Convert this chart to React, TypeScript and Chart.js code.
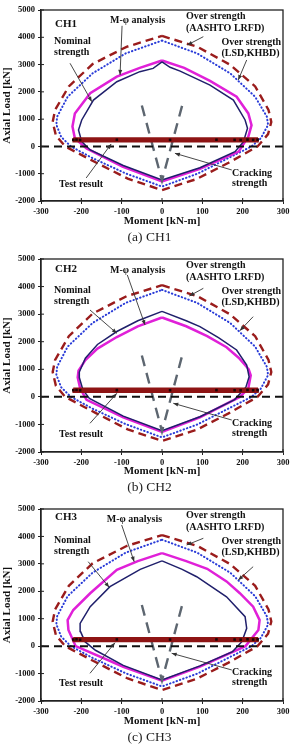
import React, { useEffect, useRef } from "react";
import { Chart, registerables } from "chart.js";
Chart.register(...registerables);

const FONT = '"Liberation Serif", "Times New Roman", serif';

// Axis ranges
const momentMin = -300;
const momentMax = 300;
const momentStep = 100;
const axialMin = -2000;
const axialMax = 5000;
const axialStep = 1000;

// Over strength (AASHTO LRFD)
const aashtoM = [0, 88, 168, 231, 264, 271, 263, 237, 165, 85, 0, -85, -165, -240, -263, -271, -265, -231, -172, -88, 0];
const aashtoP = [4050, 3650, 3000, 2200, 1340, 900, 450, 0, -600, -1200, -1600, -1180, -580, 0, 400, 900, 1340, 2200, 3020, 3650, 4050];

// Over strength (LSD, KHBD)
const lsdM = [0, 87, 169, 231, 260, 263, 245, 222, 168, 88, 0, -90, -172, -226, -250, -262, -260, -234, -172, -90, 0];
const lsdP = [3880, 3410, 2680, 1820, 1090, 790, 300, 0, -400, -1000, -1470, -990, -430, 0, 350, 800, 1090, 1820, 2680, 3410, 3880];

// Cracking strength
const crackM = [-50, 0, 50];
const crackP = [1500, -1250, 1500];

// P = 0 reference line
const zeroM = [-300, 300];
const zeroP = [0, 0];

// Test result (hysteresis at constant axial load)
const testM = [0, 60, -60, 110, -110, 150, -150, 185, -185, 205, -205, 225, -215, 238, -220, 240, -222, 0];
const testP = [240, 250, 250, 230, 230, 255, 255, 225, 225, 250, 250, 235, 235, 255, 255, 225, 225, 240];
const testMarkM = [-220, -212, -203, -112, 20, 135, 180, 195, 212, 226, 237];
const testMarkP = [240, 250, 235, 245, 240, 245, 240, 235, 250, 240, 245];

// CH1
const ch1NominalM = [0, 20, 45, 119, 177, 206, 212, 202, 181, 94, 0, -96, -178, -199, -207, -199, -170, -112, -55, -22, 0];
const ch1NominalP = [3100, 2900, 2760, 2250, 1700, 970, 665, 175, -190, -780, -1230, -700, -130, 175, 600, 970, 1700, 2370, 2740, 2860, 3100];
const ch1MphiM = [0, 55, 119, 185, 214, 222, 214, 190, 94, 0, -98, -187, -216, -222, -216, -178, -112, -55, 0];
const ch1MphiP = [3150, 2880, 2400, 1820, 1210, 780, 360, -190, -820, -1280, -740, -70, 300, 730, 1210, 1950, 2560, 2880, 3150];

// CH2
const ch2NominalM = [0, 60, 94, 140, 185, 210, 216, 208, 180, 94, 0, -96, -180, -196, -205, -205, -190, -160, -112, -60, 0];
const ch2NominalP = [3100, 2760, 2550, 2150, 1700, 1150, 730, 350, -100, -720, -1230, -700, -60, 250, 700, 900, 1400, 1900, 2370, 2760, 3100];
const ch2MphiM = [0, 60, 112, 160, 190, 215, 220, 214, 193, 94, 0, -96, -187, -203, -209, -207, -190, -160, -112, -60, 0];
const ch2MphiP = [2880, 2560, 2200, 1800, 1420, 1000, 780, 310, 0, -740, -1270, -740, -110, 310, 700, 950, 1330, 1750, 2170, 2560, 2880];

// CH3
const ch3NominalM = [0, 50, 86, 160, 206, 210, 198, 175, 94, 0, -96, -165, -191, -202, -203, -178, -129, -54, 0];
const ch3NominalP = [3110, 2800, 2530, 1800, 1075, 650, 163, -200, -720, -1230, -700, -150, 163, 530, 830, 1440, 2170, 2800, 3110];
const ch3MphiM = [0, 60, 112, 160, 193, 226, 242, 239, 207, 94, 0, -96, -214, -232, -234, -220, -178, -112, -60, 0];
const ch3MphiP = [3390, 3100, 2820, 2360, 1930, 1440, 950, 590, 0, -750, -1260, -750, 0, 590, 950, 1318, 1927, 2780, 3100, 3390];

type Txt = { t: string; m: number; p: number; size?: number };
type Arr = { m0: number; p0: number; m1: number; p1: number };

const sharedTexts: Txt[] = [
  { t: "Over strength", m: 59.5, p: 4770 },
  { t: "(AASHTO LRFD)", m: 59.5, p: 4340 },
  { t: "Over strength", m: 147.6, p: 3827 },
  { t: "(LSD,KHBD)", m: 147.6, p: 3424 },
  { t: "Nominal", m: -267.8, p: 3864 },
  { t: "strength", m: -267.8, p: 3461 },
  { t: "Test result", m: -255.4, p: -1376 },
  { t: "Cracking", m: 173.6, p: -973 },
  { t: "strength", m: 173.6, p: -1339 },
];

const panels = [
  {
    name: "CH1",
    caption: "(a) CH1",
    top: 10,
    xh: 29,
    nominalM: ch1NominalM,
    nominalP: ch1NominalP,
    mphiM: ch1MphiM,
    mphiP: ch1MphiP,
    texts: [{ t: "CH1", m: -265, p: 4487, size: 11 }, { t: "M-φ analysis", m: -129, p: 4634 }, ...sharedTexts],
    arrows: [
      { m0: -99, p0: 4420, m1: -104, p1: 2620 },
      { m0: 102.5, p0: 4022, m1: 62.8, p1: 3717 },
      { m0: 210, p0: 3168, m1: 189, p1: 2435 },
      { m0: -228, p0: 3047, m1: -174, p1: 1640 },
      { m0: -188, p0: -1156, m1: -126, p1: 90 },
      { m0: 173, p0: -863, m1: 32, p1: -252 },
    ],
  },
  {
    name: "CH2",
    caption: "(b) CH2",
    top: 9,
    xh: 28,
    nominalM: ch2NominalM,
    nominalP: ch2NominalP,
    mphiM: ch2MphiM,
    mphiP: ch2MphiP,
    texts: [{ t: "CH2", m: -265, p: 4626, size: 11 }, { t: "M-φ analysis", m: -129, p: 4601 }, ...sharedTexts],
    arrows: [
      { m0: -86, p0: 4420, m1: -42, p1: 2606 },
      { m0: 102.5, p0: 3937, m1: 67.7, p1: 3658 },
      { m0: 226, p0: 2908, m1: 193, p1: 2400 },
      { m0: -178.5, p0: 3150, m1: -112, p1: 2305 },
      { m0: -178.5, p0: -959, m1: -112, p1: 129 },
      { m0: 173, p0: -840, m1: 28, p1: -234 },
    ],
  },
  {
    name: "CH3",
    caption: "(c) CH3",
    top: 9,
    xh: 29,
    nominalM: ch3NominalM,
    nominalP: ch3NominalP,
    mphiM: ch3MphiM,
    mphiP: ch3MphiP,
    texts: [{ t: "CH3", m: -265, p: 4700, size: 11 }, { t: "M-φ analysis", m: -137, p: 4624 }, ...sharedTexts],
    arrows: [
      { m0: -100, p0: 4417, m1: -69, p1: 3079 },
      { m0: 102.5, p0: 3932, m1: 61, p1: 3688 },
      { m0: 226, p0: 2897, m1: 189, p1: 2412 },
      { m0: -183, p0: 3079, m1: -131, p1: 2145 },
      { m0: -178.5, p0: -990, m1: -116.5, p1: 126 },
      { m0: 173, p0: -869, m1: 24, p1: -261 },
    ],
  },
];

const zip = (m: number[], p: number[]) => m.map((v, i) => ({ x: v, y: p[i] }));

function drawArrow(ctx: CanvasRenderingContext2D, x0: number, y0: number, x1: number, y1: number) {
  ctx.beginPath();
  ctx.moveTo(x0, y0);
  ctx.lineTo(x1, y1);
  ctx.stroke();
  const a = Math.atan2(y1 - y0, x1 - x0);
  const L = 5;
  const W = 2;
  ctx.beginPath();
  ctx.moveTo(x1, y1);
  ctx.lineTo(x1 - L * Math.cos(a) + W * Math.sin(a), y1 - L * Math.sin(a) - W * Math.cos(a));
  ctx.lineTo(x1 - L * Math.cos(a) - W * Math.sin(a), y1 - L * Math.sin(a) + W * Math.cos(a));
  ctx.closePath();
  ctx.fill();
}

function makeAnnotPlugin(texts: Txt[], arrows: Arr[]) {
  return {
    id: "annot",
    afterDatasetsDraw(chart: any) {
      const { ctx, chartArea, scales } = chart;
      const x = scales.x;
      const y = scales.y;
      ctx.save();
      // frame
      ctx.strokeStyle = "#222";
      ctx.lineWidth = 1.3;
      ctx.strokeRect(chartArea.left, chartArea.top, chartArea.right - chartArea.left, chartArea.bottom - chartArea.top);
      // inward ticks
      ctx.lineWidth = 1;
      ctx.beginPath();
      x.ticks.forEach((t: any) => {
        const px = x.getPixelForValue(t.value);
        ctx.moveTo(px, chartArea.bottom);
        ctx.lineTo(px, chartArea.bottom - 3);
      });
      y.ticks.forEach((t: any) => {
        const py = y.getPixelForValue(t.value);
        ctx.moveTo(chartArea.left, py);
        ctx.lineTo(chartArea.left + 3, py);
      });
      ctx.stroke();
      // arrows
      ctx.strokeStyle = "#333";
      ctx.fillStyle = "#333";
      ctx.lineWidth = 0.9;
      arrows.forEach((a) => {
        drawArrow(ctx, x.getPixelForValue(a.m0), y.getPixelForValue(a.p0), x.getPixelForValue(a.m1), y.getPixelForValue(a.p1));
      });
      // texts
      ctx.fillStyle = "#111";
      ctx.textAlign = "left";
      ctx.textBaseline = "middle";
      texts.forEach((t) => {
        ctx.font = `bold ${t.size ?? 10}px ${FONT}`;
        ctx.fillText(t.t, x.getPixelForValue(t.m), y.getPixelForValue(t.p));
      });
      ctx.restore();
    },
  };
}

function buildConfig(p: (typeof panels)[number]): any {
  const tickFont = { family: FONT, size: 8.5, weight: "bold" as const };
  const titleFont = { family: FONT, size: 11, weight: "bold" as const };
  return {
    type: "scatter",
    data: {
      datasets: [
        { label: "Test result peaks", data: zip(testMarkM, testMarkP), showLine: false, pointStyle: "rect", pointRadius: 1.8, backgroundColor: "#1a0505", borderWidth: 0 },
        { label: "Test result", data: zip(testM, testP), showLine: true, borderColor: "#8e1414", borderWidth: 4.5, pointRadius: 0 },
        { label: "P = 0", data: zip(zeroM, zeroP), showLine: true, borderColor: "#111", borderWidth: 2, borderDash: [8, 5], pointRadius: 0 },
        { label: "Cracking strength", data: zip(crackM, crackP), showLine: true, borderColor: "#5d6670", borderWidth: 2.4, borderDash: [11, 7], pointRadius: 0 },
        { label: "Nominal strength", data: zip(p.nominalM, p.nominalP), showLine: true, borderColor: "#1f1f6b", borderWidth: 1.5, pointRadius: 0 },
        { label: "M-φ analysis", data: zip(p.mphiM, p.mphiP), showLine: true, borderColor: "#e020d8", borderWidth: 2.5, pointRadius: 0 },
        { label: "Over strength (LSD,KHBD)", data: zip(lsdM, lsdP), showLine: true, borderColor: "#2a3cd8", borderWidth: 2, borderDash: [0.5, 3], borderCapStyle: "round", pointRadius: 0 },
        { label: "Over strength (AASHTO LRFD)", data: zip(aashtoM, aashtoP), showLine: true, borderColor: "#9a1c1c", borderWidth: 2.4, borderDash: [8, 5], pointRadius: 0 },
      ],
    },
    options: {
      animation: false,
      responsive: false,
      maintainAspectRatio: false,
      layout: { padding: { top: p.top, right: 16, left: 0, bottom: 0 } },
      plugins: { legend: { display: false }, tooltip: { enabled: false } },
      scales: {
        x: {
          type: "linear",
          min: momentMin,
          max: momentMax,
          ticks: { stepSize: momentStep, color: "#111", font: tickFont, padding: 3, maxRotation: 0, autoSkip: false, callback: (v: any) => String(v) },
          grid: { drawOnChartArea: false, drawTicks: true, tickLength: 3, color: "#222" },
          border: { display: true, color: "#222", width: 1.3 },
          title: { display: true, text: "Moment [kN-m]", color: "#111", font: titleFont, padding: { top: 0, bottom: 2 } },
          afterFit: (s: any) => {
            s.height = p.xh;
          },
        },
        y: {
          type: "linear",
          min: axialMin,
          max: axialMax,
          ticks: { stepSize: axialStep, color: "#111", font: tickFont, padding: 3, autoSkip: false, callback: (v: any) => String(v) },
          grid: { drawOnChartArea: false, drawTicks: true, tickLength: 3, color: "#222" },
          border: { display: true, color: "#222", width: 1.3 },
          title: { display: true, text: "Axial Load [kN]", color: "#111", font: titleFont, padding: { top: 1, bottom: 0 } },
          afterFit: (s: any) => {
            s.width = 41;
          },
        },
      },
    },
    plugins: [makeAnnotPlugin(p.texts, p.arrows)],
  };
}

function Panel({ cfg }: { cfg: (typeof panels)[number] }) {
  const ref = useRef<HTMLCanvasElement>(null);
  useEffect(() => {
    document.body.style.margin = "0";
    const chart = new Chart(ref.current as HTMLCanvasElement, buildConfig(cfg));
    return () => chart.destroy();
  }, [cfg]);
  return (
    <div style={{ width: 299, height: 250 }}>
      <canvas ref={ref} width={299} height={230} style={{ display: "block", width: 299, height: 230 }} />
      <div style={{ height: 20, lineHeight: "14px", textAlign: "center", fontFamily: FONT, fontSize: 13.5, color: "#222" }}>{cfg.caption}</div>
    </div>
  );
}

export default function App() {
  return (
    <div style={{ width: 299, background: "#fff" }}>
      {panels.map((p) => (
        <Panel key={p.name} cfg={p} />
      ))}
    </div>
  );
}
